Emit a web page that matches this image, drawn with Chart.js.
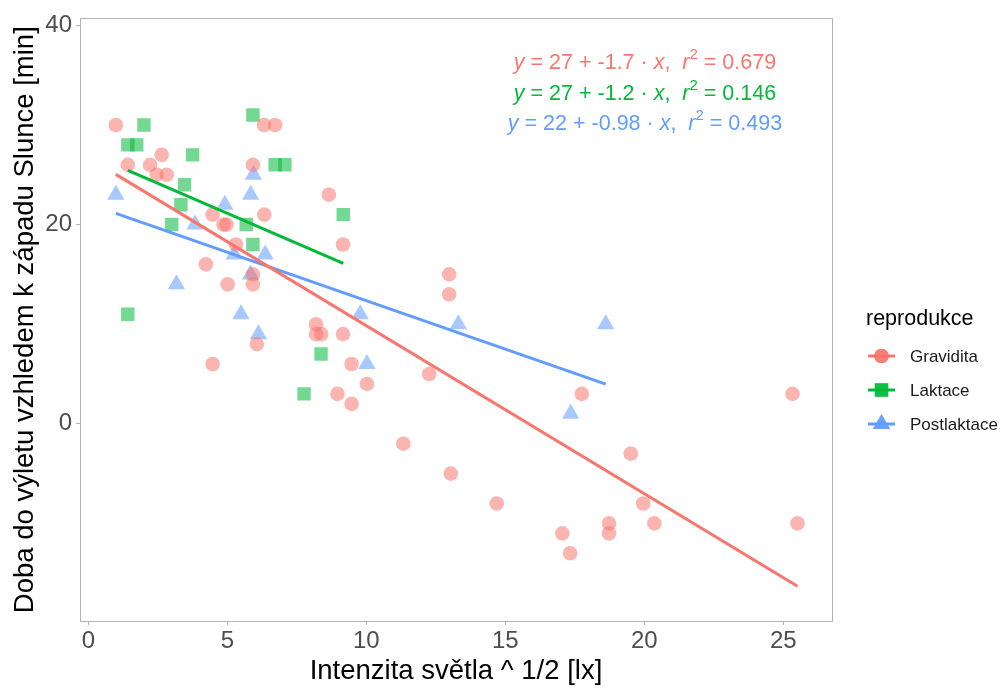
<!DOCTYPE html>
<html>
<head>
<meta charset="utf-8">
<script src="https://cdn.jsdelivr.net/npm/chart.js@4.4.1/dist/chart.umd.min.js"></script>
<style>
  html, body { margin: 0; padding: 0; background: #ffffff; }
  #wrap { width: 1003px; height: 689px; }
</style>
</head>
<body>
<div id="wrap"><canvas id="c" width="1003" height="689"></canvas></div>
<script>
// ---------------- data ----------------
const seriesNames = ['Gravidita', 'Laktace', 'Postlaktace'];
const seriesColors = ['#F8766D', '#00BA38', '#619CFF'];

const gravX = [0.99, 1.42, 2.22, 2.64, 2.46, 2.82, 6.32, 6.72, 5.92, 8.65, 6.33, 4.47, 4.86, 4.97, 5.31, 9.16,
  4.23, 5.92, 5.01, 5.92, 8.19, 8.19, 8.38, 9.16, 6.06, 4.47, 12.98, 12.98, 9.47, 10.02, 8.96, 9.47, 12.26, 17.75,
  11.33, 13.04, 14.69, 17.05, 17.33, 18.73, 18.73, 19.51, 19.96, 20.36, 25.33, 25.51];
const gravY = [30, 26, 26, 27, 25, 25, 30, 30, 26, 23, 21, 21, 20, 20, 18, 18,
  16, 15, 14, 14, 10, 9, 9, 9, 8, 6, 15, 13, 6, 4, 3, 2, 5, 3,
  -2, -5, -8, -11, -13, -10, -11, -3, -8, -10, 3, -10];

const laktX = [2.0, 1.42, 1.74, 3.75, 5.92, 6.72, 7.07, 3.46, 3.33, 3.0, 5.68, 5.92, 9.17, 1.42, 8.37, 7.76];
const laktY = [30, 28, 28, 27, 31, 26, 26, 24, 22, 20, 20, 18, 21, 11, 7, 3];

const postX = [0.99, 4.91, 5.94, 5.84, 3.84, 5.24, 6.36, 3.17, 5.84, 5.49, 6.12, 9.78, 10.02, 13.31, 17.35, 18.61];
const postY = [23, 22, 25, 23, 20, 17, 17, 14, 15, 11, 9, 11, 6, 10, 1, 10];

const eqIntercepts = ['27', '27', '22'];
const eqSlopes = ['-1.7', '-1.2', '-0.98'];
const eqR2 = ['0.679', '0.146', '0.493'];

const xTicks = [0, 5, 10, 15, 20, 25];
const yTicks = [0, 20, 40];

const xTitle = 'Intenzita světla ^ 1/2 [lx]';
const yTitle = 'Doba do výletu vzhledem k západu Slunce [min]';
const legendTitle = 'reprodukce';

// ---------------- helpers ----------------
const baseFamily = "'Liberation Sans', Arial, sans-serif";

function zip(xs, ys) { return xs.map((x, i) => ({ x: x, y: ys[i] })); }
function fitLine(xs, ys) {
  const n = xs.length;
  const mx = xs.reduce((a, b) => a + b, 0) / n;
  const my = ys.reduce((a, b) => a + b, 0) / n;
  let sxy = 0, sxx = 0;
  for (let i = 0; i < n; i++) { sxy += (xs[i] - mx) * (ys[i] - my); sxx += (xs[i] - mx) ** 2; }
  const b = sxy / sxx, a = my - b * mx;
  const x0 = Math.min(...xs), x1 = Math.max(...xs);
  return [{ x: x0, y: a + b * x0 }, { x: x1, y: a + b * x1 }];
}
function rgba(hex, a) {
  const r = parseInt(hex.slice(1, 3), 16), g = parseInt(hex.slice(3, 5), 16), b = parseInt(hex.slice(5, 7), 16);
  return `rgba(${r},${g},${b},${a})`;
}

const groups = [[gravX, gravY], [laktX, laktY], [postX, postY]];
const shapes = ['circle', 'rect', 'triangle'];
const radii = [7.3, 9.5, 10];

const datasets = [];
groups.forEach((g, i) => {
  datasets.push({
    label: seriesNames[i] + ' fit',
    data: fitLine(g[0], g[1]),
    showLine: true,
    borderColor: seriesColors[i],
    borderWidth: 3,
    pointRadius: 0,
    fill: false,
    order: 0
  });
});
groups.forEach((g, i) => {
  datasets.push({
    label: seriesNames[i],
    data: zip(g[0], g[1]),
    showLine: false,
    pointStyle: shapes[i],
    pointRadius: radii[i],
    pointBackgroundColor: rgba(seriesColors[i], 0.55),
    pointBorderWidth: 0,
    pointBorderColor: 'rgba(0,0,0,0)',
    order: 1
  });
});

// ---------------- plugins ----------------
const panelPlugin = {
  id: 'panel',
  afterDatasetsDraw(chart) {
    const { ctx, chartArea: a } = chart;
    ctx.save();
    ctx.strokeStyle = '#b3b3b3';
    ctx.lineWidth = 1;
    ctx.strokeRect(Math.round(a.left) + 0.5, Math.round(a.top) + 0.5, Math.round(a.right - a.left), Math.round(a.bottom - a.top));
    ctx.restore();
  },
  afterDraw(chart) {
    const ctx = chart.ctx;
    ctx.save();
    // ---- equations ----
    const fs = 21.5;
    const cx = 645;
    const baselines = [69, 100, 130];
    for (let i = 0; i < 3; i++) {
      const parts = [
        { t: 'y', it: true },
        { t: ' = ' + eqIntercepts[i] + ' + ' + eqSlopes[i] + ' · ' },
        { t: 'x', it: true },
        { t: ',  ' },
        { t: 'r', it: true },
        { t: '2', sup: true },
        { t: ' = ' + eqR2[i] }
      ];
      const fontFor = p => (p.it ? 'italic ' : '') + (p.sup ? Math.round(fs * 0.7) : fs) + 'px ' + baseFamily;
      let total = 0;
      parts.forEach(p => { ctx.font = fontFor(p); p.w = ctx.measureText(p.t).width; total += p.w; });
      let x = cx - total / 2;
      ctx.fillStyle = seriesColors[i];
      ctx.textBaseline = 'alphabetic';
      ctx.textAlign = 'left';
      parts.forEach(p => {
        ctx.font = fontFor(p);
        ctx.fillText(p.t, x, baselines[i] - (p.sup ? fs * 0.45 : 0));
        x += p.w;
      });
    }
    // ---- legend ----
    ctx.fillStyle = '#000000';
    ctx.font = '21.5px ' + baseFamily;
    ctx.textAlign = 'left';
    ctx.textBaseline = 'alphabetic';
    ctx.fillText(legendTitle, 866, 325);
    const keyY = [356, 390, 424];
    for (let i = 0; i < 3; i++) {
      const y = keyY[i];
      ctx.strokeStyle = seriesColors[i];
      ctx.lineWidth = 3;
      ctx.beginPath(); ctx.moveTo(868, y); ctx.lineTo(895, y); ctx.stroke();
      ctx.fillStyle = rgba(seriesColors[i], 0.75);
      Chart.helpers.drawPoint(ctx, { pointStyle: shapes[i], radius: radii[i], borderWidth: 0 }, 881.5, y);
      ctx.fill();
      ctx.fillStyle = '#1a1a1a';
      ctx.font = '17px ' + baseFamily;
      ctx.textBaseline = 'middle';
      ctx.fillText(seriesNames[i], 910, y + 1);
      ctx.textBaseline = 'alphabetic';
    }
    ctx.restore();
  }
};

const tickFont = { family: baseFamily, size: 24 };
const titleFont = { family: baseFamily, size: 27.5, lineHeight: 1.2 };

new Chart(document.getElementById('c'), {
  type: 'scatter',
  data: { datasets: datasets },
  options: {
    responsive: false,
    animation: false,
    devicePixelRatio: 1,
    layout: { padding: { left: 0, right: 171, top: 16, bottom: 0 } },
    plugins: { legend: { display: false }, tooltip: { enabled: false } },
    scales: {
      x: {
        type: 'linear',
        min: -0.3,
        max: 26.75,
        afterBuildTicks: s => { s.ticks = xTicks.map(v => ({ value: v })); },
        afterFit: s => { s.height = 68; },
        grid: { display: true, drawOnChartArea: false, drawTicks: true, tickLength: 4, color: '#b3b3b3', lineWidth: 1 },
        border: { display: false },
        ticks: { font: tickFont, color: '#4d4d4d', padding: 2, maxRotation: 0, autoSkip: false },
        title: { display: true, text: xTitle, font: titleFont, color: '#000000', padding: { top: 0, bottom: 1 } }
      },
      y: {
        type: 'linear',
        min: -19.8,
        max: 40.7,
        afterBuildTicks: s => { s.ticks = yTicks.map(v => ({ value: v })); },
        afterFit: s => { s.width = 80; },
        grid: { display: true, drawOnChartArea: false, drawTicks: true, tickLength: 4, color: '#b3b3b3', lineWidth: 1 },
        border: { display: false },
        ticks: { font: tickFont, color: '#4d4d4d', padding: 4, autoSkip: false },
        title: { display: true, text: yTitle, font: titleFont, color: '#000000', padding: { top: 9, bottom: 0 } }
      }
    }
  },
  plugins: [panelPlugin]
});
</script>
</body>
</html>
